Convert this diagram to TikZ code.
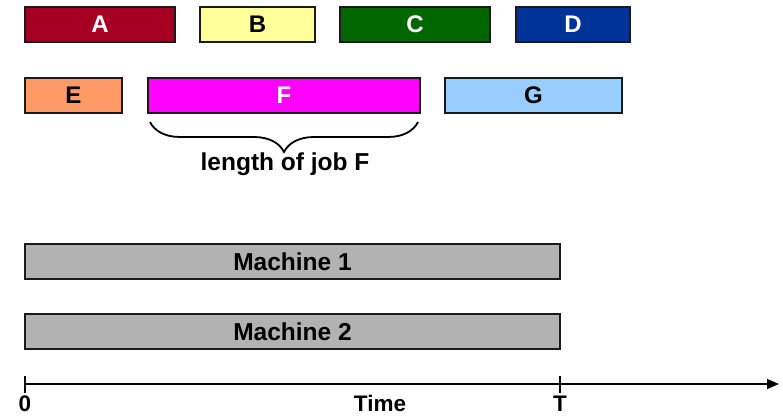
\documentclass[tikz,border=0pt]{standalone}
\usepackage{fontspec}
\setmainfont{Liberation Sans}
\usetikzlibrary{decorations.pathreplacing,arrows.meta}
\definecolor{cA}{HTML}{A50021}
\definecolor{cB}{HTML}{FFFF99}
\definecolor{cC}{HTML}{006600}
\definecolor{cD}{HTML}{003399}
\definecolor{cE}{HTML}{FF9966}
\definecolor{cF}{HTML}{FF00FF}
\definecolor{cG}{HTML}{99CCFF}
\definecolor{cM}{HTML}{B2B2B2}
\definecolor{edge}{HTML}{1A1A1A}
\begin{document}
\begin{tikzpicture}[x=1pt,y=-1pt,
  jobbox/.style={draw=edge, line width=1.5pt, minimum height=35pt, inner sep=0pt,
    font=\fontsize{24}{24}\selectfont\bfseries},
  machbox/.style={jobbox, fill=cM, font=\fontsize{24.5}{24.5}\selectfont\bfseries},
  lbl/.style={inner sep=0pt, font=\fontsize{24.5}{24.5}\selectfont\bfseries},
  axislbl/.style={inner sep=0pt, font=\fontsize{22.5}{22.5}\selectfont\bfseries}]
\useasboundingbox (0,0) rectangle (783,417);
% jobs
\node[jobbox, fill=cA, text=white, minimum width=150pt] (A) at (100,24.5) {A};
\node[jobbox, fill=cB, text=black, minimum width=115pt] (B) at (257.5,24.5) {B};
\node[jobbox, fill=cC, text=white, minimum width=150pt] (C) at (415,24.5) {C};
\node[jobbox, fill=cD, text=white, minimum width=114pt] (D) at (573,24.5) {D};
\node[jobbox, fill=cE, text=black, minimum width=97pt] (E) at (73.5,95.5) {E};
\node[jobbox, fill=cF, text=white, minimum width=272pt] (F) at (284,95.5) {F};
\node[jobbox, fill=cG, text=black, minimum width=177pt] (G) at (533.5,95.5) {G};
% brace
\coordinate (bL) at (150,122);
\coordinate (bR) at (418,122);
\draw[line width=1.8pt, decorate, decoration={brace, mirror, amplitude=30pt, aspect=0.5}] (bL) -- (bR);
\node[lbl] (len) at (285,164) {length of job F};
% machines
\node[machbox, minimum width=535pt] (M1) at (292.5,261.5) {Machine 1};
\node[machbox, minimum width=535pt] (M2) at (292.5,331.5) {Machine 2};
% axis
\coordinate (ax0) at (25,384);
\coordinate (axE) at (779,384);
\coordinate (t0a) at (25,376);
\coordinate (t0b) at (25,393);
\coordinate (tTa) at (560,376);
\coordinate (tTb) at (560,393);
\draw[line width=1.3pt, -{Triangle[length=12pt,width=10pt]}] (ax0) -- (axE);
\draw[line width=1.3pt] (t0a) -- (t0b);
\draw[line width=1.3pt] (tTa) -- (tTb);
\node[axislbl] (zero) at (25,403.5) {0};
\node[axislbl] (time) at (380,403.5) {Time};
\node[axislbl] (T) at (560,403.5) {T};
\end{tikzpicture}
\end{document}
